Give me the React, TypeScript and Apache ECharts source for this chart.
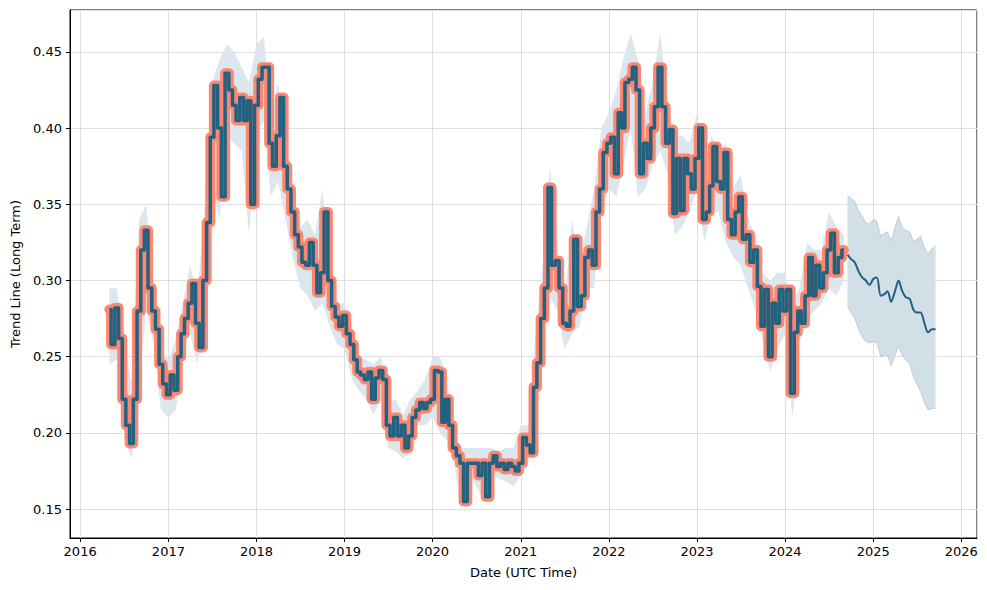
import { useEffect, useRef } from "react";
import * as echarts from "echarts";

// Long-term trend, semi-monthly points (1st and 16th) starting May 1, 2016
const trendStart = { year: 2016, month: 4, half: 0 };
const trendValues = [
  // 2016 May..Dec
  0.281, 0.258, 0.282, 0.262, 0.222, 0.205, 0.193, 0.222, 0.28, 0.32, 0.333, 0.295, 0.28, 0.268, 0.245, 0.232,
  // 2017
  0.225, 0.238, 0.228, 0.25, 0.265, 0.275, 0.285, 0.298, 0.272, 0.256, 0.3, 0.338, 0.394, 0.428, 0.4, 0.355, 0.436, 0.425, 0.415, 0.405, 0.42, 0.405, 0.418, 0.35,
  // 2018
  0.415, 0.432, 0.44, 0.44, 0.39, 0.375, 0.395, 0.42, 0.375, 0.36, 0.345, 0.33, 0.322, 0.312, 0.31, 0.325, 0.31, 0.292, 0.305, 0.345, 0.3, 0.283, 0.276, 0.27,
  // 2019
  0.277, 0.265, 0.258, 0.248, 0.24, 0.238, 0.235, 0.24, 0.222, 0.236, 0.241, 0.235, 0.205, 0.198, 0.21, 0.198, 0.205, 0.19, 0.198, 0.21, 0.215, 0.22, 0.216, 0.22,
  // 2020
  0.222, 0.241, 0.24, 0.207, 0.222, 0.205, 0.19, 0.185, 0.18, 0.155, 0.18, 0.18, 0.18, 0.172, 0.18, 0.158, 0.18, 0.185, 0.178, 0.18, 0.176, 0.18, 0.178, 0.175,
  // 2021
  0.18, 0.197, 0.192, 0.187, 0.23, 0.246, 0.275, 0.295, 0.361, 0.31, 0.313, 0.295, 0.272, 0.27, 0.28, 0.327, 0.283, 0.29, 0.315, 0.32, 0.31, 0.345, 0.36, 0.384,
  // 2022
  0.39, 0.394, 0.37, 0.41, 0.4, 0.43, 0.432, 0.44, 0.425, 0.37, 0.39, 0.38, 0.4, 0.414, 0.44, 0.414, 0.39, 0.399, 0.344, 0.38, 0.346, 0.38, 0.37, 0.36,
  // 2023
  0.38, 0.4, 0.34, 0.345, 0.362, 0.388, 0.365, 0.36, 0.384, 0.34, 0.33, 0.345, 0.355, 0.327, 0.33, 0.312, 0.32, 0.296, 0.27, 0.294, 0.25, 0.285, 0.272, 0.294,
  // 2024 Jan..Sep 1
  0.28, 0.294, 0.226, 0.266, 0.28, 0.272, 0.29, 0.315, 0.29, 0.31, 0.295, 0.305, 0.32, 0.331, 0.305, 0.315, 0.32,
];

// Observed range (light band), monthly on the 1st starting May 2016
const bandStart = { year: 2016, month: 4 };
const bandLow = [
  0.245, 0.248, 0.198, 0.183, 0.228, 0.28, 0.258, 0.215,
  0.21, 0.215, 0.252, 0.265, 0.245, 0.28, 0.36, 0.34, 0.395, 0.39, 0.385, 0.33,
  0.395, 0.405, 0.355, 0.365, 0.34, 0.315, 0.295, 0.29, 0.28, 0.285, 0.27, 0.258,
  0.255, 0.235, 0.228, 0.222, 0.212, 0.222, 0.19, 0.188, 0.183, 0.188, 0.205, 0.205,
  0.21, 0.2, 0.195, 0.178, 0.15, 0.172, 0.165, 0.155, 0.172, 0.17, 0.168, 0.165,
  0.172, 0.178, 0.215, 0.26, 0.29, 0.28, 0.255, 0.265, 0.27, 0.295, 0.295, 0.345,
  0.36, 0.355, 0.375, 0.4, 0.355, 0.36, 0.375, 0.385, 0.37, 0.33, 0.335, 0.345,
  0.36, 0.325, 0.345, 0.345, 0.325, 0.315, 0.31, 0.295, 0.28, 0.26, 0.24, 0.255,
  0.265, 0.21, 0.26, 0.275, 0.28, 0.285, 0.295, 0.29, 0.3,
];
const bandHigh = [
  0.295, 0.295, 0.262, 0.232, 0.34, 0.35, 0.29, 0.255,
  0.248, 0.262, 0.285, 0.31, 0.29, 0.35, 0.43, 0.445, 0.455, 0.45, 0.44, 0.43,
  0.455, 0.46, 0.41, 0.43, 0.39, 0.36, 0.335, 0.34, 0.33, 0.36, 0.31, 0.285,
  0.285, 0.268, 0.25, 0.248, 0.245, 0.25, 0.22, 0.222, 0.212, 0.222, 0.228, 0.235,
  0.25, 0.25, 0.235, 0.198, 0.19, 0.19, 0.19, 0.19, 0.19, 0.188, 0.19, 0.19,
  0.205, 0.205, 0.26, 0.31, 0.375, 0.325, 0.285, 0.34, 0.31, 0.335, 0.36, 0.4,
  0.41, 0.425, 0.445, 0.462, 0.445, 0.41, 0.43, 0.462, 0.42, 0.395, 0.395, 0.39,
  0.41, 0.37, 0.395, 0.385, 0.39, 0.36, 0.37, 0.34, 0.33, 0.305, 0.3, 0.305,
  0.305, 0.285, 0.295, 0.325, 0.32, 0.32, 0.345, 0.335, 0.33,
];

// Forecast, semi-monthly starting Sep 16, 2024
const forecastStart = { year: 2024, month: 8, half: 1 };
const forecastValues = [
  0.317, 0.314, 0.312, 0.306, 0.302, 0.3, 0.297, 0.301, 0.302, 0.29, 0.291, 0.293, 0.286,
  0.293, 0.3, 0.293, 0.289, 0.288, 0.281, 0.279, 0.279, 0.272, 0.266, 0.268, 0.268,
];
const forecastHigh = [
  0.356, 0.354, 0.352, 0.346, 0.342, 0.338, 0.337, 0.34, 0.339, 0.329, 0.331, 0.332, 0.326,
  0.335, 0.342, 0.335, 0.333, 0.332, 0.326, 0.327, 0.329, 0.322, 0.317, 0.321, 0.323,
];
const forecastLow = [
  0.283, 0.279, 0.275, 0.268, 0.263, 0.26, 0.259, 0.26, 0.259, 0.25, 0.251, 0.251, 0.244,
  0.251, 0.257, 0.251, 0.248, 0.245, 0.237, 0.232, 0.227, 0.22, 0.215, 0.216, 0.216,
];

const xMin = Date.UTC(2015, 10, 20);
const xMax = Date.UTC(2026, 2, 7);
const yMin = 0.131;
const yMax = 0.4775;

function semiMonthlyDates(start: { year: number; month: number; half: number }, n: number) {
  const out: number[] = [];
  for (let i = 0; i < n; i++) {
    const k = start.half + i;
    out.push(Date.UTC(start.year, start.month + Math.floor(k / 2), k % 2 ? 16 : 1));
  }
  return out;
}
function monthlyDates(start: { year: number; month: number }, n: number) {
  const out: number[] = [];
  for (let i = 0; i < n; i++) out.push(Date.UTC(start.year, start.month + i, 1));
  return out;
}

const FONT = "DejaVu Sans";
const DARK = "#22617f";
const SALMON = "#fc8670";

export default function App() {
  const ref = useRef<HTMLDivElement>(null);
  useEffect(() => {
    if (!ref.current) return;
    const chart = echarts.init(ref.current, undefined, { renderer: "svg" });
    const tDates = semiMonthlyDates(trendStart, trendValues.length);
    const bDates = monthlyDates(bandStart, bandLow.length);
    const fDates = semiMonthlyDates(forecastStart, forecastValues.length);
    const trend = tDates.map((t, i) => [t, trendValues[i]]);
    const option: any = {
      animation: false,
      useUTC: true,
      grid: { left: 70, right: 10, top: 10, bottom: 52, show: true, borderColor: "#000", borderWidth: 1, backgroundColor: "transparent" },
      xAxis: {
        type: "time",
        min: xMin,
        max: xMax,
        splitNumber: 10,
        name: "Date (UTC Time)",
        nameLocation: "middle",
        nameGap: 28,
        nameTextStyle: { color: "#000", fontSize: 13, fontFamily: FONT },
        axisLine: { show: true, lineStyle: { color: "#000", width: 1 } },
        axisTick: { show: true, length: 4, lineStyle: { color: "#000" } },
        axisLabel: { formatter: "{yyyy}", color: "#000", fontSize: 13, fontFamily: FONT, margin: 7, showMinLabel: false, showMaxLabel: false, hideOverlap: false },
        splitLine: { show: true, lineStyle: { color: "#dedede", width: 1 } },
      },
      yAxis: {
        type: "value",
        min: yMin,
        max: yMax,
        name: "Trend Line (Long Term)",
        nameLocation: "middle",
        nameGap: 48,
        nameRotate: 90,
        nameTextStyle: { color: "#000", fontSize: 13, fontFamily: FONT },
        axisLine: { show: true, lineStyle: { color: "#000", width: 1 } },
        axisTick: { show: true, length: 4, lineStyle: { color: "#000" } },
        axisLabel: { formatter: (v: number) => v.toFixed(2), color: "#000", fontSize: 13, fontFamily: FONT, margin: 8, showMinLabel: false, showMaxLabel: false },
        splitLine: { show: true, lineStyle: { color: "#dedede", width: 1 } },
      },
      series: [
        {
          type: "line", stack: "obs", silent: true, symbol: "none",
          data: bDates.map((t, i) => [t, bandLow[i]]),
          lineStyle: { width: 0, opacity: 0 },
        },
        {
          type: "line", stack: "obs", silent: true, symbol: "none",
          data: bDates.map((t, i) => [t, bandHigh[i] - bandLow[i]]),
          lineStyle: { width: 0, opacity: 0 },
          areaStyle: { color: "#dce6ed", opacity: 1 },
        },
        {
          type: "line", silent: true, symbol: "none", step: "middle",
          data: trend,
          lineStyle: { color: SALMON, width: 10, cap: "round", join: "round" },
        },
        {
          type: "line", silent: true, symbol: "none", step: "middle",
          data: trend,
          lineStyle: { color: DARK, width: 3.5, join: "round" },
        },
        {
          type: "line", stack: "fc", silent: true, symbol: "none",
          data: fDates.map((t, i) => [t, forecastLow[i]]),
          lineStyle: { width: 1, color: "rgba(31,95,133,0.2)" },
        },
        {
          type: "line", stack: "fc", silent: true, symbol: "none",
          data: fDates.map((t, i) => [t, forecastHigh[i] - forecastLow[i]]),
          lineStyle: { width: 1, color: "rgba(31,95,133,0.2)" },
          areaStyle: { color: "#d2dfe7", opacity: 1 },
        },
        {
          type: "line", silent: true, symbol: "none", smooth: 0.3,
          data: fDates.map((t, i) => [t, forecastValues[i]]),
          lineStyle: { color: DARK, width: 2 },
        },
      ],
    };
    chart.setOption(option);
    return () => chart.dispose();
  }, []);
  return <div ref={ref} style={{ position: "absolute", left: 0, top: 0, width: 987, height: 590 }} />;
}
